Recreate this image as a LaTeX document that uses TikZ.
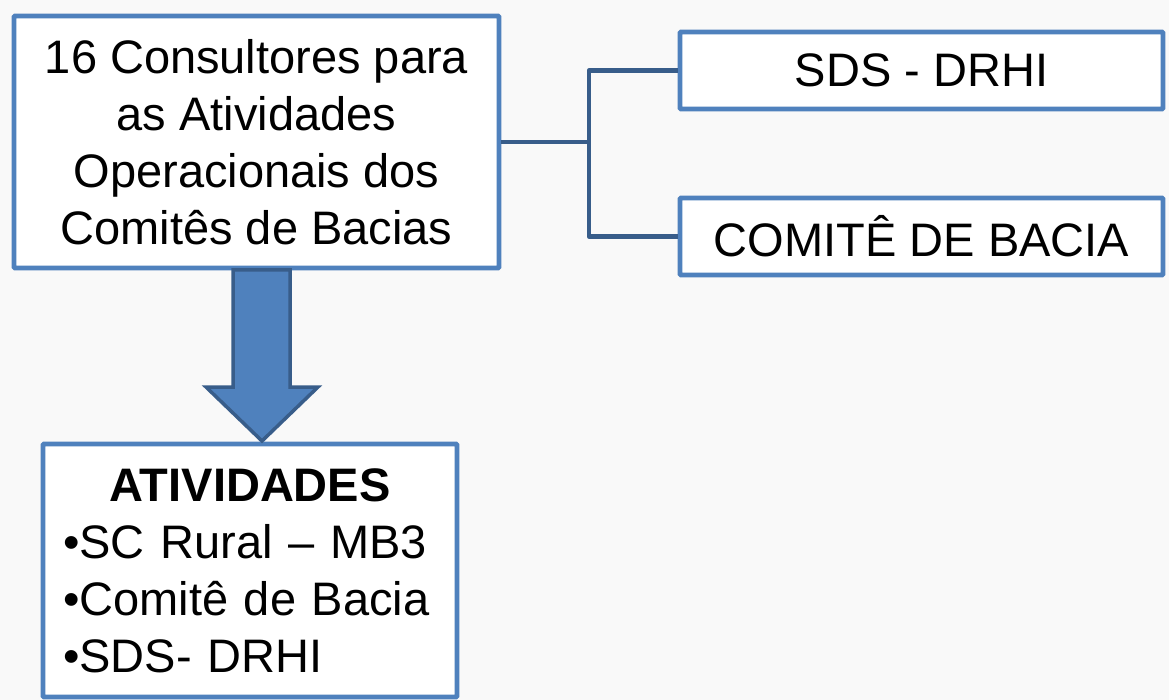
\documentclass[tikz,border=0pt]{standalone}
\usepackage{fontspec}
\setmainfont{Liberation Sans}
\definecolor{boxblue}{HTML}{4F81BD}
\definecolor{darkblue}{HTML}{385D8A}
\definecolor{bg}{HTML}{F9F9F9}
\begin{document}
\begin{tikzpicture}[x=1pt,y=-1pt,
  box/.style={draw=boxblue,line width=4.8pt,fill=white,rounded corners=1pt,inner sep=0pt,
    font=\fontsize{47}{57}\selectfont,align=center},
  conn/.style={draw=darkblue,line width=4.5pt},
  blockarrow/.style={fill=boxblue,draw=darkblue,line width=3.5pt,line join=miter}]
\useasboundingbox (0,0) rectangle (1169,700);
\fill[bg] (0,0) rectangle (1169,700);
% boxes
\node[box,minimum width=485pt,minimum height=252pt] (b1) at (256.5,142)
  {16 Consultores para\\as Atividades\\Operacionais dos\\Comitês de Bacias};
\node[box,minimum width=483pt,minimum height=77pt] (sds) at (921.5,70.5) {SDS - DRHI};
\node[box,minimum width=483pt,minimum height=77pt] (com) at (921.5,236.5) {COMITÊ DE BACIA};
\node[box,minimum width=414pt,minimum height=253pt,text width=374pt,align=left] (atv) at (250,570.5)
  {\makebox[374pt][c]{\textbf{ATIVIDADES}}\\•SC Rural – MB3\\•Comitê de Bacia\\•SDS- DRHI};
% elbow connector
\coordinate (j) at (589,142);
\draw[conn] (b1.east) -- (j);
\draw[conn,line join=round] (sds.west) -| (j) |- (com.west);
% block arrow
\draw[blockarrow] (233,270) -- (290,270) -- (290,387) -- (318,387) -- (262,441)
  -- (206,387) -- (233,387) -- cycle;
\end{tikzpicture}
\end{document}
